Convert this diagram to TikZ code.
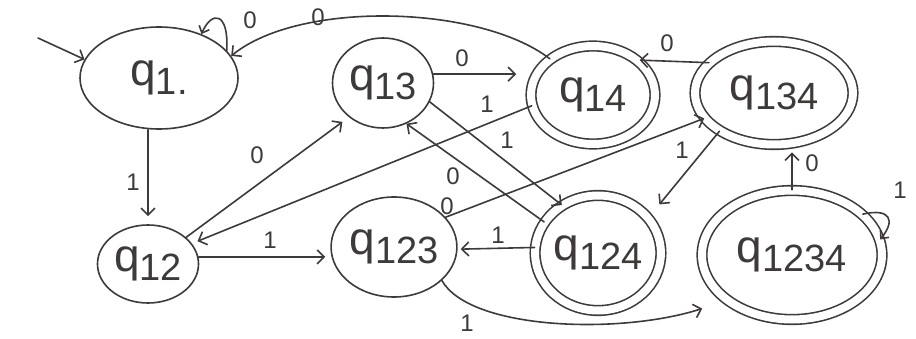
\documentclass[tikz,border=0pt]{standalone}
\usepackage{fontspec}
\setmainfont{Liberation Sans}
\usetikzlibrary{shapes.geometric,arrows.meta}
\definecolor{ink}{RGB}{62,58,58}
\newcommand{\qsub}[1]{q\raisebox{-9pt}{\fontsize{38}{38}\selectfont #1}}
\begin{document}
\begin{tikzpicture}[x=1pt,y=-1pt,
  ed/.style={draw=ink, line width=1.6pt, line cap=round,
    -{Straight Barb[length=7pt,width=14pt]}},
  st/.style={ellipse, draw=ink, line width=1.6pt, inner sep=0pt, text=ink,
    font=\fontsize{46}{46}\selectfont},
  acc/.style={st, double=white, double distance=8pt},
  lab/.style={text=ink, inner sep=0pt, font=\fontsize{24}{24}\selectfont}]
\useasboundingbox (0,0) rectangle (916,339);
\fill[white] (0,0) rectangle (916,339);

% states
\node[st, minimum width=158pt, minimum height=102pt] (q1) at (159,78) {\qsub{1.}};
\node[st, minimum width=101pt, minimum height=90pt] (q13) at (383,83) {\qsub{13}};
\node[st, minimum width=101pt, minimum height=78pt] (q12) at (148,264) {\qsub{12}};
\node[st, minimum width=122pt, minimum height=100pt] (q123) at (394,247) {\qsub{123}};
\node[acc, minimum width=124pt, minimum height=98pt] (q14) at (593,95) {\qsub{14}};
\node[acc, minimum width=158pt, minimum height=103pt] (q134) at (774,93) {\qsub{134}};
\node[acc, minimum width=123pt, minimum height=115pt] (q124) at (598,253) {\qsub{124}};
\node[acc, minimum width=180pt, minimum height=129pt] (q1234) at (792,255) {\qsub{1234}};

% start
\coordinate (s0) at (38,38);
\draw[ed] (s0) -- (q1.166);

% q1 -> q12
\draw[ed, shorten >=8pt] (q12.north |- q1.south) -- (q12.north);
\node[lab] at (133,182) {1};

% q1 self loop
\draw[ed, -{Straight Barb[length=6pt,width=11pt]}] (q1.22) .. controls (229,12) and (212,10) .. (q1.46);
\node[lab] at (250,20) {0};

% q14 -> q1
\draw[ed] (q14.140) .. controls (480,5) and (300,0) .. (q1.17);
\node[lab] at (318,17) {0};

% q12 -> q13
\draw[ed, shorten >=8pt] (q12.35) -- (q13.225);
\node[lab] at (257,155) {0};

% q12 -> q123
\draw[ed, shorten >=5pt] (q12.8) -- (q12.8 -| q123.west);
\node[lab] at (270,240) {1};

% q13 -> q14
\draw[ed, shorten >=14pt] (q13.10) -- (q13.10 -| q14.west);
\node[lab] at (462,58) {0};

% q13 -> q124
\draw[ed] (q13.338) -- (q124.127);
\node[lab] at (507,140) {1};

% q124 -> q13
\draw[ed] (q124.150) -- (q13.300);
\node[lab] at (453,176) {0};

% q14 -> q12
\draw[ed, shorten >=6pt] (q14.190) -- (q12.25);
\node[lab] at (487,104) {1};

% q123 -> q134
\draw[ed] (q123.30) -- (q134.200);
\node[lab] at (447,206) {0};

% q134 -> q124
\draw[ed, shorten >=17pt] (q134.215) -- (q124.35);
\node[lab] at (682,150) {1};

% q134 -> q14
\draw[ed, shorten >=2pt] (q134.155) -- (q14.38);
\node[lab] at (667,43) {0};

% q124 -> q123
\draw[ed, shorten >=3pt] (q124.175) -- (q123.358);
\node[lab] at (498,235) {1};

% q123 -> q1234
\draw[ed, shorten >=26pt] (q123.325) .. controls (470,330) and (620,335) .. (q1234.215);
\node[lab] at (467,323) {1};

% q1234 -> q134
\draw[ed, shorten >=7pt] (q1234.north) -- (q1234.north |- q134.south);
\node[lab] at (812,163) {0};

% q1234 self loop
\draw[ed, -{Straight Barb[length=6pt,width=11pt]}] (q1234.30) .. controls (890,208) and (896,220) .. (q1234.10);
\node[lab] at (900,190) {1};
\end{tikzpicture}
\end{document}
